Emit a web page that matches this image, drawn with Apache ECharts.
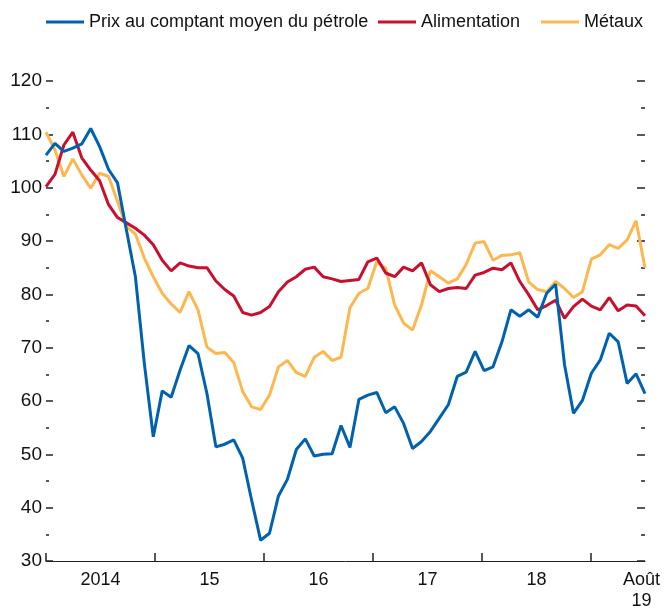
<!DOCTYPE html>
<html>
<head>
<meta charset="utf-8">
<script src="https://cdn.jsdelivr.net/npm/echarts@6/dist/echarts.min.js"></script>
<style>
html, body { margin: 0; padding: 0; background: #fff; }
#chart { width: 662px; height: 609px; }
</style>
</head>
<body>
<div id="chart"></div>
<script>
// Indices mensuels, janv. 2014 - août 2019
var oil = [106.1, 108.3, 106.8, 107.4, 108.2, 111.1, 107.7, 103.4, 100.9, 92.0, 83.3, 67.0,
	53.3, 61.9, 60.7, 65.8, 70.4, 68.9, 61.4, 51.4, 51.9, 52.7, 49.3, 41.4,
	33.9, 35.2, 42.2, 45.3, 50.9, 52.9, 49.7, 50.0, 50.1, 55.4, 51.3, 60.3,
	61.1, 61.6, 57.8, 58.9, 55.8, 51.1, 52.4, 54.3, 56.8, 59.3, 64.6, 65.4,
	69.3, 65.7, 66.4, 71.1, 77.1, 75.9, 77.1, 75.7, 80.2, 81.9, 66.8, 57.7,
	60.1, 65.2, 67.7, 72.7, 71.1, 63.3, 65.1, 61.4];
var food = [100.2, 102.5, 108.0, 110.4, 105.6, 103.3, 101.3, 96.8, 94.4, 93.4, 92.4, 91.1,
	89.3, 86.4, 84.4, 85.9, 85.3, 85.0, 85.0, 82.5, 80.9, 79.7, 76.6, 76.1,
	76.6, 77.7, 80.5, 82.3, 83.3, 84.7, 85.1, 83.3, 82.9, 82.4, 82.6, 82.8,
	86.1, 86.8, 84.0, 83.3, 85.1, 84.4, 85.9, 81.8, 80.5, 81.1, 81.3, 81.1,
	83.6, 84.1, 84.9, 84.6, 85.9, 82.4, 79.9, 77.1, 77.9, 78.9, 75.5, 77.7,
	79.1, 77.8, 77.1, 79.4, 76.9, 78.0, 77.8, 76.0];
var metals = [110.4, 107.1, 102.1, 105.4, 102.4, 99.9, 102.7, 102.1, 97.4, 92.7, 91.3, 86.8,
	83.3, 80.2, 78.2, 76.6, 80.5, 77.1, 70.1, 68.9, 69.1, 67.2, 61.8, 58.9,
	58.4, 61.1, 66.4, 67.6, 65.3, 64.6, 68.2, 69.3, 67.6, 68.2, 77.5, 80.2,
	81.1, 86.1, 84.9, 78.0, 74.6, 73.3, 78.0, 84.4, 83.3, 82.1, 82.9, 85.6,
	89.6, 89.9, 86.4, 87.3, 87.4, 87.8, 82.3, 80.9, 80.5, 82.4, 81.1, 79.4,
	80.5, 86.6, 87.4, 89.3, 88.6, 90.2, 93.8, 85.0];
var seriesNames = ['Prix au comptant moyen du pétrole', 'Alimentation', 'Métaux'];
var xLabels = ['2014', '15', '16', '17', '18', 'Août\n19'];

var FONT = '"Liberation Sans", Arial, sans-serif';
var nMonths = oil.length - 1;
// les traits d'années sont un peu plus espacés que 12 mois de données
var yearStep = 12.19;
var tickPos = [];
var labelPos = [];
for (var k = 0; k < 5; k++) {
	tickPos.push(k * yearStep);
	labelPos.push(k * yearStep + yearStep / 2);
}
tickPos.push(5 * yearStep);
// dernier libellé un peu rentré pour ne pas sortir du cadre
labelPos.push(nMonths - 0.4);

function toPoints(arr) {
	return arr.map(function (v, i) { return [i, v]; });
}

function xLabelFor(value) {
	for (var i = 0; i < labelPos.length; i++) {
		if (Math.abs(value - labelPos[i]) < 0.01) return xLabels[i];
	}
	return '';
}

var legendBase = {
	top: 8,
	icon: 'rect',
	itemWidth: 38,
	itemHeight: 3,
	selectedMode: false,
	textStyle: { fontFamily: FONT, fontSize: 18, color: '#111' }
};

var myChart = echarts.init(document.getElementById('chart'));
var option = {
	animation: false,
	backgroundColor: '#fff',
	grid: { left: 46, right: 17, top: 81, bottom: 48, containLabel: false, outerBoundsMode: 'none' },
	legend: [
		Object.assign({}, legendBase, { left: 41, data: [seriesNames[0]] }),
		Object.assign({}, legendBase, { left: 373, data: [seriesNames[1]] }),
		Object.assign({}, legendBase, { left: 536, data: [seriesNames[2]] })
	],
	xAxis: {
		type: 'value',
		min: 0,
		max: nMonths,
		splitLine: { show: false },
		axisLine: { show: true, lineStyle: { color: '#222', width: 1 } },
		axisTick: {
			show: true,
			inside: true,
			length: 8,
			customValues: tickPos,
			lineStyle: { color: '#222', width: 1.5 }
		},
		axisLabel: {
			show: true,
			customValues: labelPos,
			hideOverlap: false,
			margin: 9,
			fontFamily: FONT,
			fontSize: 18,
			lineHeight: 21,
			color: '#111',
			formatter: function (value) {
				return xLabelFor(value);
			}
		}
	},
	yAxis: [{
		type: 'value',
		position: 'left',
		min: 30,
		max: 120,
		interval: 10,
		splitLine: { show: false },
		axisLine: { show: false },
		axisTick: { show: true, inside: true, length: 7, lineStyle: { color: '#222', width: 1.5 } },
		minorTick: { show: true, splitNumber: 2, length: 3, lineStyle: { color: '#222', width: 1.5 } },
		axisLabel: { margin: 4, fontFamily: FONT, fontSize: 19, color: '#111' }
	}, {
		type: 'value',
		position: 'right',
		min: 30,
		max: 120,
		interval: 10,
		splitLine: { show: false },
		axisLine: { show: false },
		axisTick: { show: true, inside: true, length: 8, lineStyle: { color: '#222', width: 1.5 } },
		minorTick: { show: true, splitNumber: 2, length: 4, lineStyle: { color: '#222', width: 1.5 } },
		axisLabel: { show: false }
	}],
	series: [{
		name: seriesNames[2],
		type: 'line',
		data: toPoints(metals),
		showSymbol: false,
		color: '#FDB74F',
		lineStyle: { width: 3, color: '#FDB74F' }
	}, {
		name: seriesNames[1],
		type: 'line',
		data: toPoints(food),
		showSymbol: false,
		color: '#C8102E',
		lineStyle: { width: 3, color: '#C8102E' }
	}, {
		name: seriesNames[0],
		type: 'line',
		data: toPoints(oil),
		showSymbol: false,
		color: '#0062AE',
		lineStyle: { width: 3, color: '#0062AE' }
	}]
};
myChart.setOption(option);
</script>
</body>
</html>
